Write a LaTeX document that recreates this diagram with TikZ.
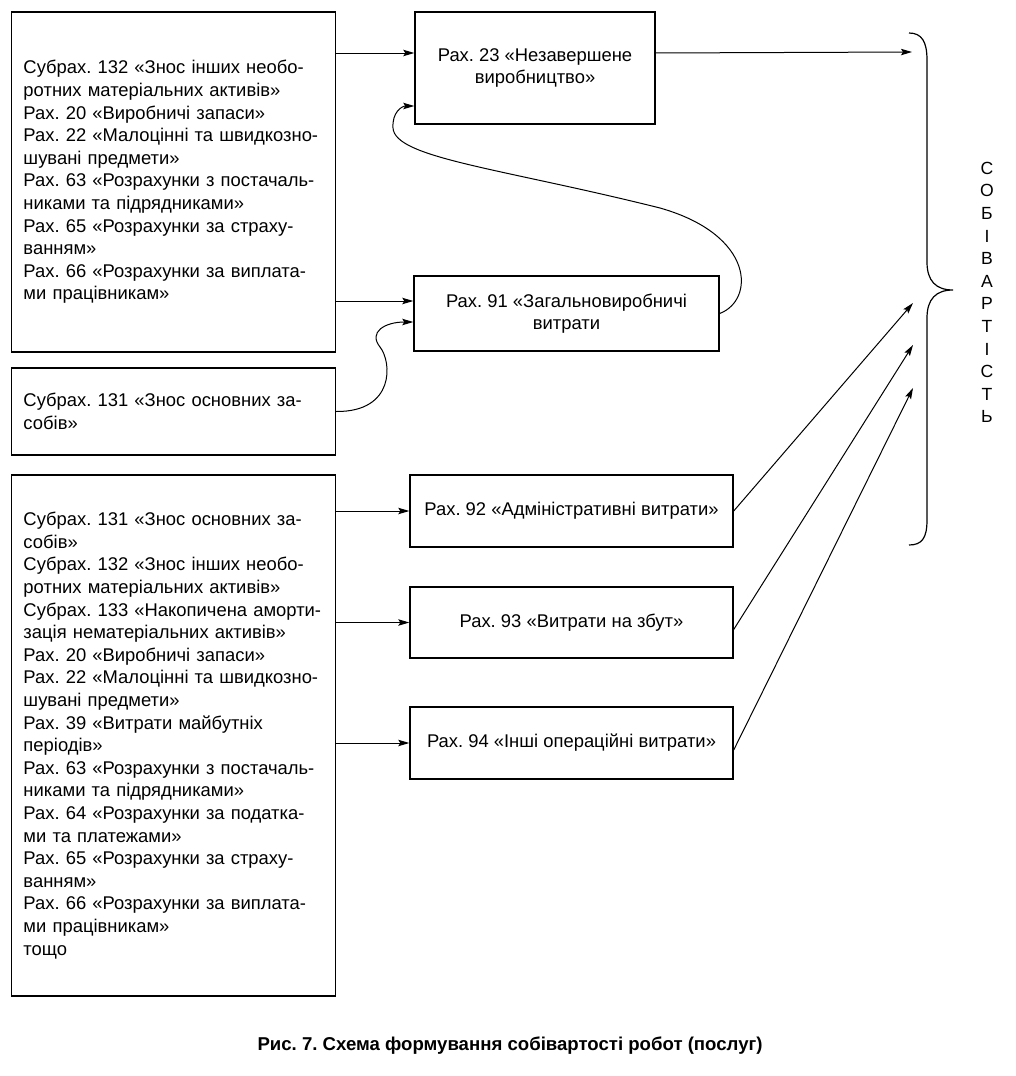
\documentclass[tikz,border=0pt]{standalone}
\usepackage{fontspec}
\setmainfont{Liberation Sans}
\usetikzlibrary{arrows.meta, positioning, calc}
\frenchspacing

\begin{document}
\begin{tikzpicture}[x=0.5pt, y=-0.5pt,
  every node/.style={font=\fontsize{9.2pt}{11.3pt}\selectfont},
  srcbox/.style={draw, line width=0.7pt, inner xsep=6pt, inner ysep=0pt, text width=150pt, align=left, minimum width=161.5pt},
  accbox/.style={draw, line width=0.7pt, inner sep=0pt, align=center},
  arr/.style={-{Stealth[length=5.5pt, width=3.2pt, inset=1pt]}, line width=0.5pt}]
  \useasboundingbox (0,0) rectangle (1016,1076);

  % source accounts
  \node[srcbox, minimum height=170pt] (srcA) at (173.5,182) {Субрах. 132 «Знос інших необо-\\
    ротних матеріальних активів»\\
    Рах. 20 «Виробничі запаси»\\
    Рах. 22 «Малоцінні та швидкозно-\\
    шувані предмети»\\
    Рах. 63 «Розрахунки з постачаль-\\
    никами та підрядниками»\\
    Рах. 65 «Розрахунки за страху-\\
    ванням»\\
    Рах. 66 «Розрахунки за виплата-\\
    ми працівникам»};
  \node[srcbox, minimum height=43.5pt] (srcB) at (173.5,411.5) {Субрах. 131 «Знос основних за-\\
    собів»};
  \node[srcbox, minimum height=260.5pt] (srcC) at (173.5,735.5) {Субрах. 131 «Знос основних за-\\
    собів»\\
    Субрах. 132 «Знос інших необо-\\
    ротних матеріальних активів»\\
    Субрах. 133 «Накопичена аморти-\\
    зація нематеріальних активів»\\
    Рах. 20 «Виробничі запаси»\\
    Рах. 22 «Малоцінні та швидкозно-\\
    шувані предмети»\\
    Рах. 39 «Витрати майбутніх\\
    періодів»\\
    Рах. 63 «Розрахунки з постачаль-\\
    никами та підрядниками»\\
    Рах. 64 «Розрахунки за податка-\\
    ми та платежами»\\
    Рах. 65 «Розрахунки за страху-\\
    ванням»\\
    Рах. 66 «Розрахунки за виплата-\\
    ми працівникам»\\
    тощо};

  % cost accounts
  \node[accbox, minimum width=120pt, minimum height=56pt] (acc23) at (535,68) {Рах. 23 «Незавершене\\виробництво»};
  \node[accbox, minimum width=152.5pt, minimum height=37.5pt] (acc91) at (566.5,313.5) {Рах. 91 «Загальновиробничі\\витрати};
  \node[accbox, minimum width=161.5pt, minimum height=36pt] (acc92) at (571.5,511) {Рах. 92 «Адміністративні витрати»};
  \node[accbox, minimum width=161.5pt, minimum height=35.5pt] (acc93) at (571.5,622.5) {Рах. 93 «Витрати на збут»};
  \node[accbox, minimum width=161.5pt, minimum height=36pt] (acc94) at (571.5,743) {Рах. 94 «Інші операційні витрати»};

  % cost total
  \node[font=\fontsize{8.8pt}{11.3pt}\selectfont, align=center, inner sep=0pt] (total) at (987,292.5) {С\\О\\Б\\І\\В\\А\\Р\\Т\\І\\С\\Т\\Ь};
  \draw[line width=0.6pt] (909,33) .. controls (922,33) and (927,42) .. (927,60) -- (927,262)
    .. controls (927,281) and (936,290) .. (953,290)
    .. controls (936,290) and (927,299) .. (927,318) -- (927,520)
    .. controls (927,538) and (922,545) .. (909,545);
  \coordinate (in23) at (912,52);
  \coordinate (in92) at (913,303);
  \coordinate (in93) at (913,345);
  \coordinate (in94) at (913,388);

  \draw[arr] ([yshift=7.5pt]acc23.west -| srcA.east) -- ([yshift=7.5pt]acc23.west);
  \draw[arr] ([yshift=6.25pt]acc91.west -| srcA.east) -- ([yshift=6.25pt]acc91.west);
  \draw[arr] (srcB.east) .. controls (395,412) and (392,362) .. (380,347)
    .. controls (368,332) and (385,322) .. ([yshift=-4.25pt]acc91.west);
  \draw[arr] (acc91.east) .. controls (755,300) and (755,235) .. (660,208)
    .. controls (500,168) and (395,158) .. (393,128)
    .. controls (392,112) and (402,106) .. ([yshift=-19pt]acc23.west);
  \draw[arr] (acc92.west -| srcC.east) -- (acc92.west);
  \draw[arr] (acc93.west -| srcC.east) -- (acc93.west);
  \draw[arr] (acc94.west -| srcC.east) -- (acc94.west);

  \draw[arr] ([yshift=7.5pt]acc23.east) -- (in23);
  \draw[arr] (acc92.east) -- (in92);
  \draw[arr] ([yshift=-3.5pt]acc93.east) -- (in93);
  \draw[arr] ([yshift=-3.5pt]acc94.east) -- (in94);

  \node[font=\bfseries\fontsize{9.3pt}{11pt}\selectfont] (caption) at (510,1046) {Рис. 7. Схема формування собівартості робот (послуг)};
\end{tikzpicture}
\end{document}
